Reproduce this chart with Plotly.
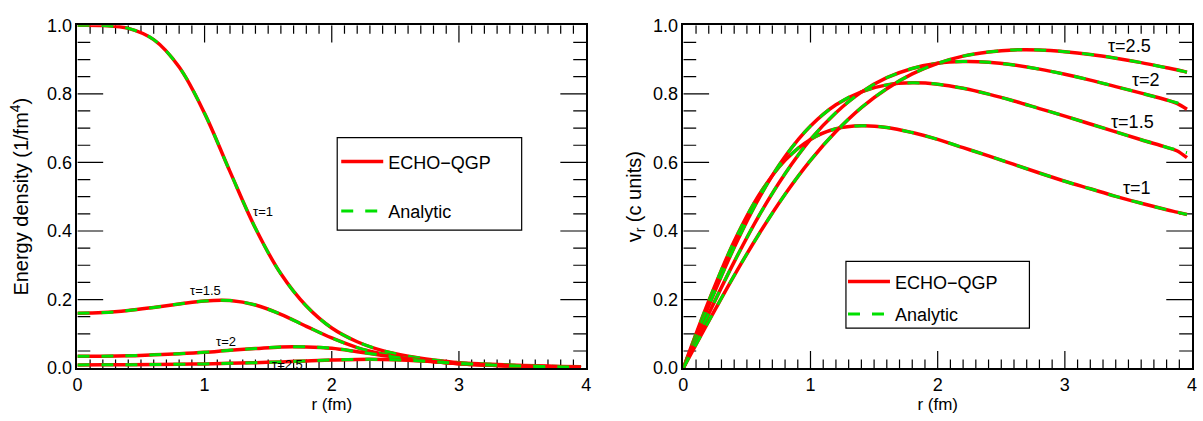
import plotly.graph_objects as go

# ---------------- data ----------------
r_left = [0, 0.2, 0.4, 0.6, 0.8, 1.0, 1.2, 1.4, 1.6, 1.8, 2.0, 2.2, 2.4, 2.6, 2.8,
          3.0, 3.2, 3.4, 3.6, 3.8, 3.96]
e_tau1 = [1.000, 0.999, 0.991, 0.958, 0.878, 0.743, 0.573, 0.408, 0.275, 0.181, 0.117,
          0.077, 0.051, 0.035, 0.024, 0.016, 0.012, 0.009, 0.007, 0.005, 0.004]
e_tau15 = [0.160, 0.162, 0.168, 0.177, 0.187, 0.196, 0.197, 0.184, 0.157, 0.122, 0.088,
           0.060, 0.041, 0.028, 0.019, 0.013, 0.009, 0.007, 0.005, 0.004, 0.003]
e_tau2 = [0.035, 0.035, 0.036, 0.039, 0.042, 0.046, 0.052, 0.057, 0.062, 0.062, 0.058,
          0.048, 0.037, 0.027, 0.019, 0.013, 0.009, 0.006, 0.005, 0.003, 0.002]
e_tau25 = [0.0095, 0.0096, 0.0099, 0.0105, 0.0113, 0.0124, 0.0139, 0.0160, 0.0182, 0.0210,
           0.0236, 0.0254, 0.0253, 0.0228, 0.0186, 0.0141, 0.0102, 0.0072, 0.0050, 0.0036, 0.0028]

r_right = [0, 0.2, 0.4, 0.6, 0.8, 1.0, 1.2, 1.4, 1.6, 1.8, 2.0, 2.2, 2.4, 2.6, 2.8,
           3.0, 3.2, 3.4, 3.6, 3.8, 3.88, 3.96]
v_tau1 = [0, 0.196, 0.370, 0.508, 0.606, 0.667, 0.698, 0.707, 0.702, 0.687, 0.667,
          0.643, 0.619, 0.594, 0.569, 0.545, 0.523, 0.501, 0.481, 0.462, 0.455, 0.448]
v_tau15 = [0, 0.182, 0.352, 0.499, 0.617, 0.706, 0.768, 0.806, 0.826, 0.832, 0.828,
           0.816, 0.799, 0.779, 0.757, 0.735, 0.712, 0.689, 0.666, 0.644, 0.636, 0.628]
v_tau15_echo = [0, 0.182, 0.352, 0.499, 0.617, 0.706, 0.768, 0.806, 0.826, 0.832, 0.828,
                0.816, 0.799, 0.779, 0.757, 0.735, 0.712, 0.689, 0.666, 0.644, 0.634, 0.614]
v_tau2 = [0, 0.159, 0.310, 0.448, 0.567, 0.667, 0.745, 0.805, 0.847, 0.874, 0.889,
          0.894, 0.892, 0.884, 0.872, 0.857, 0.840, 0.821, 0.802, 0.782, 0.774, 0.766]
v_tau2_echo = [0, 0.159, 0.310, 0.448, 0.567, 0.667, 0.745, 0.805, 0.847, 0.874, 0.889,
               0.894, 0.892, 0.884, 0.872, 0.857, 0.840, 0.821, 0.802, 0.782, 0.772, 0.755]
v_tau25 = [0, 0.137, 0.270, 0.394, 0.507, 0.606, 0.690, 0.760, 0.815, 0.858, 0.889,
           0.910, 0.922, 0.928, 0.928, 0.923, 0.915, 0.904, 0.891, 0.876, 0.870, 0.863]

left_labels = ["τ=1", "τ=1.5", "τ=2", "τ=2.5"]
left_label_x = [1.46, 1.01, 1.17, 1.65]
left_label_y = [0.456, 0.225, 0.077, 0.012]
right_labels = ["τ=2.5", "τ=2", "τ=1.5", "τ=1"]
right_label_x = [3.51, 3.64, 3.53, 3.57]
right_label_y = [0.938, 0.839, 0.718, 0.526]

# tick positions (axis units)
x_major_ticks = [1, 2, 3]
x_minor_ticks = [k / 10 for k in range(1, 40) if k % 10 != 0]
y_major_ticks = [0.2, 0.4, 0.6, 0.8]
y_minor_ticks = [k / 20 for k in range(1, 20) if k % 4 != 0]

# ---------------- styling ----------------
W, H = 1203, 421
FONT = "Liberation Sans, Arial, Helvetica, sans-serif"
RED = "#ff0000"
GREEN = "#00e000"
DASH = "12px,12px"
X_RANGE = [0, 4]
Y_RANGE = [0, 1]
PLOT_W_PX = 513.0
PLOT_H_PX = 360.0
px_x = (X_RANGE[1] - X_RANGE[0]) / PLOT_W_PX   # axis units per pixel (x)
px_y = (Y_RANGE[1] - Y_RANGE[0]) / PLOT_H_PX   # axis units per pixel (y)

fig = go.Figure()


def tick_marks(xr, yr):
    """Inside tick marks on all four sides, drawn as one line trace."""
    xs, ys = [], []
    for ticks, length in ((x_minor_ticks, 9), (x_major_ticks, 18)):
        L = length * px_y
        for v in ticks:
            xs += [v, v, None, v, v, None]
            ys += [Y_RANGE[0], Y_RANGE[0] + L, None, Y_RANGE[1], Y_RANGE[1] - L, None]
    for ticks, length in ((y_minor_ticks, 13), (y_major_ticks, 26)):
        L = length * px_x
        for v in ticks:
            xs += [X_RANGE[0], X_RANGE[0] + L, None, X_RANGE[1], X_RANGE[1] - L, None]
            ys += [v, v, None, v, v, None]
    fig.add_trace(go.Scatter(x=xs, y=ys, mode="lines", xaxis=xr, yaxis=yr,
                             line=dict(color="black", width=1.2),
                             hoverinfo="skip", showlegend=False, connectgaps=False))


tick_marks("x", "y")
tick_marks("x2", "y2")

left_echo = [e_tau1, e_tau15, e_tau2, e_tau25]
left_ana = [e_tau1, e_tau15, e_tau2, e_tau25]
right_echo = [v_tau1, v_tau15_echo, v_tau2_echo, v_tau25]
right_ana = [v_tau1, v_tau15, v_tau2, v_tau25]

for i, (ye, ya) in enumerate(zip(left_echo, left_ana)):
    fig.add_trace(go.Scatter(x=r_left, y=ye, mode="lines", name="ECHO−QGP",
                             line=dict(color=RED, width=3.5, shape="spline"),
                             xaxis="x", yaxis="y", legend="legend",
                             legendgroup="a", showlegend=(i == 0)))
    fig.add_trace(go.Scatter(x=r_left, y=ya, mode="lines", name="Analytic",
                             line=dict(color=GREEN, width=3, dash=DASH, shape="spline"),
                             xaxis="x", yaxis="y", legend="legend",
                             legendgroup="b", showlegend=(i == 0)))

for i, (ye, ya) in enumerate(zip(right_echo, right_ana)):
    fig.add_trace(go.Scatter(x=r_right, y=ye, mode="lines", name="ECHO−QGP",
                             line=dict(color=RED, width=3.5, shape="spline"),
                             xaxis="x2", yaxis="y2", legend="legend2",
                             legendgroup="c", showlegend=(i == 0)))
    fig.add_trace(go.Scatter(x=r_right, y=ya, mode="lines", name="Analytic",
                             line=dict(color=GREEN, width=3, dash=DASH, shape="spline"),
                             xaxis="x2", yaxis="y2", legend="legend2",
                             legendgroup="d", showlegend=(i == 0)))


def xaxis_style(domain, anchor):
    return dict(domain=domain, anchor=anchor, range=X_RANGE,
                tickmode="linear", tick0=0, dtick=1, ticks="",
                showline=True, linecolor="black", linewidth=1.5, mirror=True,
                showgrid=False, zeroline=False,
                tickfont=dict(family=FONT, size=18, color="black"),
                title=dict(text="r (fm)", font=dict(family=FONT, size=17, color="black"),
                           standoff=4))


def yaxis_style(domain, anchor, title, standoff):
    return dict(domain=domain, anchor=anchor, range=Y_RANGE,
                tickmode="linear", tick0=0, dtick=0.2, tickformat=".1f", ticks="",
                showline=True, linecolor="black", linewidth=1.5, mirror=True,
                showgrid=False, zeroline=False,
                tickfont=dict(family=FONT, size=18, color="black"),
                title=dict(text=title, font=dict(family=FONT, size=20, color="black"),
                           standoff=standoff))


shapes = [
    dict(type="rect", xref="paper", yref="paper", x0=335 / W, x1=521 / W,
         y0=1 - 231 / H, y1=1 - 134 / H, line=dict(color="black", width=1.2)),
    dict(type="rect", xref="paper", yref="paper", x0=848 / W, x1=1033 / W,
         y0=1 - 334 / H, y1=1 - 264 / H, line=dict(color="black", width=1.2)),
]

ydom = [45 / H, 405 / H]
annotations = []
for t, x, y in zip(left_labels, left_label_x, left_label_y):
    annotations.append(dict(text=t, x=x, y=y, xref="x", yref="y", showarrow=False,
                            font=dict(family=FONT, size=13, color="black")))
for t, x, y in zip(right_labels, right_label_x, right_label_y):
    annotations.append(dict(text=t, x=x, y=y, xref="x2", yref="y2", showarrow=False,
                            font=dict(family=FONT, size=18, color="black")))

fig.update_layout(
    width=W, height=H, margin=dict(l=0, r=0, t=0, b=0),
    paper_bgcolor="white", plot_bgcolor="white",
    font=dict(family=FONT, color="black"),
    xaxis=xaxis_style([73 / W, 586 / W], "y"),
    yaxis=yaxis_style(ydom, "x", "Energy density (1/fm<sup>4</sup>)", 13),
    xaxis2=xaxis_style([684 / W, 1197 / W], "y2"),
    yaxis2=yaxis_style(ydom, "x2", "v<sub>r</sub> (c units)", 6),
    legend=dict(x=334 / W, y=1 - 140 / H, xanchor="left", yanchor="top",
                bgcolor="rgba(0,0,0,0)", borderwidth=0, traceorder="grouped",
                itemwidth=42, tracegroupgap=23,
                font=dict(family=FONT, size=18, color="black")),
    legend2=dict(x=845 / W, y=1 - 266 / H, xanchor="left", yanchor="top",
                 bgcolor="rgba(0,0,0,0)", borderwidth=0, traceorder="grouped",
                 itemwidth=42, tracegroupgap=6,
                 font=dict(family=FONT, size=18, color="black")),
    annotations=annotations,
    shapes=shapes,
)

fig.write_html("out.html")
